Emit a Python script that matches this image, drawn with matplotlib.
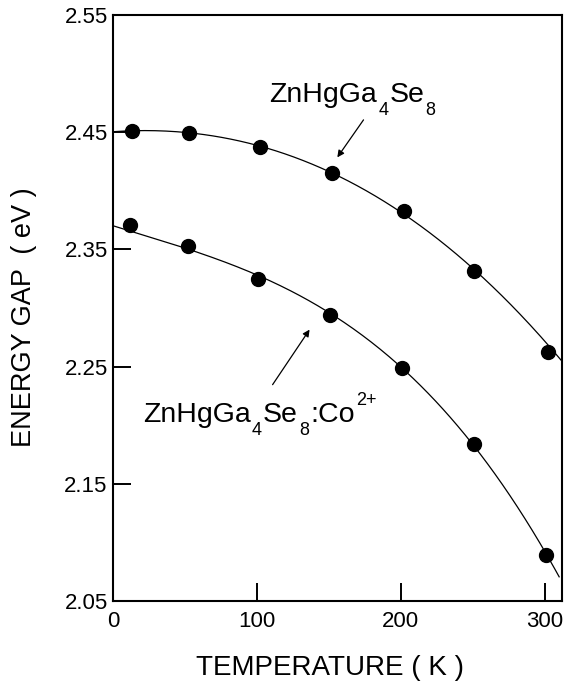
import numpy as np
import matplotlib
matplotlib.use("Agg")
import matplotlib.pyplot as plt

plt.rcParams['font.family'] = ['Liberation Sans', 'DejaVu Sans']

# Data
temp_pure = [13, 53, 102, 152, 202, 251, 302]
gap_pure = [2.4506, 2.4492, 2.437, 2.4154, 2.383, 2.3313, 2.2627]
temp_co = [12, 52, 101, 151, 201, 251, 301]
gap_co = [2.371, 2.3527, 2.325, 2.2936, 2.249, 2.184, 2.089]

# where the fitted lines start and end
curve_ends_pure_t = [0, 313]
curve_ends_pure_e = [2.4505, 2.2536]
curve_ends_co_t = [0, 310]
curve_ends_co_e = [2.3695, 2.0705]

x_ticks = [0, 100, 200, 300]
y_ticks = [2.05, 2.15, 2.25, 2.35, 2.45, 2.55]
parts_pure = [("ZnHgGa", "n"), ("4", "sub"), ("Se", "n"), ("8", "sub")]
parts_co = [("ZnHgGa", "n"), ("4", "sub"), ("Se", "n"), ("8", "sub"),
            (":Co", "n"), ("2+", "sup")]

fig = plt.figure(figsize=(5.66, 6.82), dpi=100)
ax = fig.add_axes([0.2, 0.119, 0.793, 0.859])

# fitted curves (weighted cubic least-squares fit of points and line ends)
for tx, gy, et, ee in [(temp_pure, gap_pure, curve_ends_pure_t, curve_ends_pure_e),
                       (temp_co, gap_co, curve_ends_co_t, curve_ends_co_e)]:
    xs = np.r_[tx, et]
    ys = np.r_[gy, ee]
    w = np.r_[np.ones(len(tx)), 3 * np.ones(len(et))]
    c = np.polyfit(xs, ys, 3, w=w)
    tt = np.linspace(et[0], et[1], 300)
    ax.plot(tt, np.polyval(c, tt), color='black', lw=0.9, zorder=2)

ax.plot(temp_pure, gap_pure, 'o', color='black', ms=10, zorder=3)
ax.plot(temp_co, gap_co, 'o', color='black', ms=10, zorder=3)

ax.set_xlim(0, 312)
ax.set_ylim(2.05, 2.55)
ax.set_xticks(x_ticks)
ax.set_yticks(y_ticks)
ax.set_yticklabels([f"{v:.2f}" for v in y_ticks])
ax.tick_params(direction='in', length=13, width=1.4, labelsize=16, pad=4,
               top=False, right=False)
ax.tick_params(axis='x', pad=7.5)
for s in ax.spines.values():
    s.set_linewidth(1.5)

ax.set_xlabel("TEMPERATURE ( K )", fontsize=20)
ax.xaxis.set_label_coords(0.482, -0.092)
ax.set_ylabel("ENERGY GAP  ( eV )", fontsize=19.5)
ax.yaxis.set_label_coords(-0.169, 0.485)


def chem_label(ax, x, y, parts, main_size=20.5, small_size=13):
    offsets = {'n': 0.0, 'sub': -9.6, 'sup': 12.0}
    sizes = {'n': main_size, 'sub': small_size, 'sup': small_size}
    txt, kind = parts[0]
    prev = ax.text(x, y, txt, fontsize=sizes[kind], va='baseline', ha='left')
    prev_kind = kind
    for txt, kind in parts[1:]:
        dy = 0.21 * sizes[prev_kind] + offsets[kind] - offsets[prev_kind]
        prev = ax.annotate(txt, xy=(1, 0), xycoords=prev, xytext=(0.8, dy),
                           textcoords='offset points', fontsize=sizes[kind],
                           va='baseline', ha='left')
        prev_kind = kind


chem_label(ax, 108.5, 2.476, parts_pure)
chem_label(ax, 20.8, 2.203, parts_co)

ax.annotate("", xy=(155.8, 2.4285), xytext=(174.0, 2.4605),
            arrowprops=dict(arrowstyle='-|>', color='black', lw=0.9,
                            mutation_scale=10, shrinkA=0, shrinkB=0))
ax.annotate("", xy=(136.5, 2.2815), xytext=(110.8, 2.2345),
            arrowprops=dict(arrowstyle='-|>', color='black', lw=0.9,
                            mutation_scale=10, shrinkA=0, shrinkB=0))

fig.savefig("out.png", dpi=100)
